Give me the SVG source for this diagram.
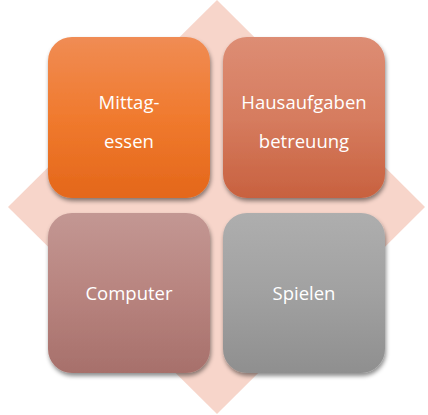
<svg xmlns="http://www.w3.org/2000/svg" width="428" height="415" viewBox="0 0 428 415">
  <defs>
    <linearGradient id="gOrange" x1="0" y1="0" x2="0" y2="1">
      <stop offset="0" stop-color="#F08C54"/>
      <stop offset="0.5" stop-color="#F07A2E"/>
      <stop offset="1" stop-color="#E4671A"/>
    </linearGradient>
    <linearGradient id="gTerra" x1="0" y1="0" x2="0" y2="1">
      <stop offset="0" stop-color="#DD8D74"/>
      <stop offset="0.5" stop-color="#D67C5F"/>
      <stop offset="1" stop-color="#C8613F"/>
    </linearGradient>
    <linearGradient id="gRose" x1="0" y1="0" x2="0" y2="1">
      <stop offset="0" stop-color="#C39793"/>
      <stop offset="0.5" stop-color="#B8847F"/>
      <stop offset="1" stop-color="#A7706B"/>
    </linearGradient>
    <linearGradient id="gGrey" x1="0" y1="0" x2="0" y2="1">
      <stop offset="0" stop-color="#AEAEAE"/>
      <stop offset="0.5" stop-color="#A1A1A1"/>
      <stop offset="1" stop-color="#8F8F8F"/>
    </linearGradient>
    <filter id="shadow" x="-10%" y="-10%" width="125%" height="125%">
      <feDropShadow dx="1" dy="3" stdDeviation="2.2" flood-color="#000" flood-opacity="0.45"/>
    </filter>
  </defs>
  <style>
    .box { filter: url(#shadow); }
    .lbl { font-family: "Open Sans", "Noto Sans", "Liberation Sans", sans-serif; font-size: 18.5px; fill: #FFFFFF; text-anchor: middle; }
  </style>
  <rect width="428" height="415" fill="#FFFFFF"/>
  <polygon id="background-diamond" points="217,0 425,207 217,414 8,207" fill="#F7D5CA"/>
  <g id="connectors"/>
  <g id="node-mittagessen">
    <rect class="box" x="48" y="37" width="162" height="161" rx="24" ry="24" fill="url(#gOrange)"/>
    <text class="lbl" x="129" y="109">Mittag-</text>
    <text class="lbl" x="129" y="148">essen</text>
  </g>
  <g id="node-hausaufgaben">
    <rect class="box" x="223" y="37" width="162" height="161" rx="24" ry="24" fill="url(#gTerra)"/>
    <text class="lbl" x="304" y="109">Hausaufgaben</text>
    <text class="lbl" x="304" y="148">betreuung</text>
  </g>
  <g id="node-computer">
    <rect class="box" x="48" y="213" width="162" height="160" rx="24" ry="24" fill="url(#gRose)"/>
    <text class="lbl" x="129" y="300">Computer</text>
  </g>
  <g id="node-spielen">
    <rect class="box" x="223" y="213" width="162" height="160" rx="24" ry="24" fill="url(#gGrey)"/>
    <text class="lbl" x="304" y="300">Spielen</text>
  </g>
</svg>
